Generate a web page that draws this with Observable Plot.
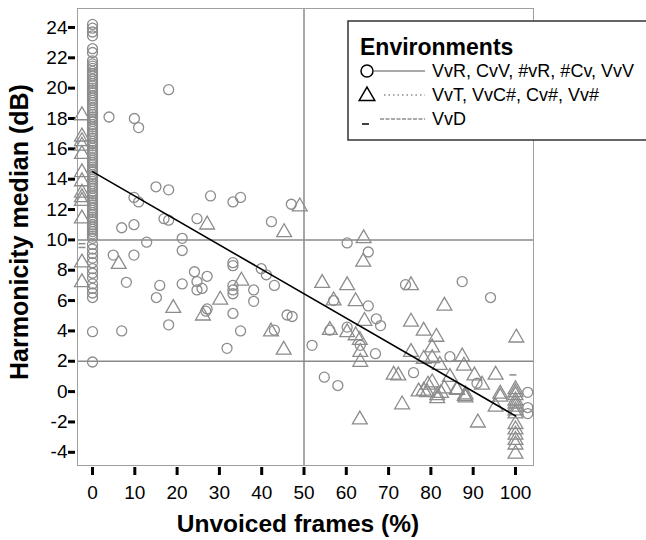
<!DOCTYPE html>
<html><head><meta charset="utf-8">
<script src="https://cdn.jsdelivr.net/npm/d3@7"></script>
<script src="https://cdn.jsdelivr.net/npm/@observablehq/plot@0.6"></script>
<style>body{margin:0;background:#fff;font-family:"Liberation Sans",Arial,sans-serif}</style>
</head><body><div id="chart"></div>
<script>
// ---- data ----
const xTicks = [0,10,20,30,40,50,60,70,80,90,100];
const yTicks = [-4,-2,0,2,4,6,8,10,12,14,16,18,20,22,24];
const refLinesY = [2, 10];
const refLinesX = [50];

// circles stacked at 0 % unvoiced frames (VvR, CvV, #vR, #Cv, VvV)
const circleColumnY = [24.2,23.95,23.7,23.45,22.6,22.35,21.8,21.6,21.45,21.3,21.1,20.95,20.8,20.6,20.45,20.3,20.15,20.0,19.85,19.7,19.5,19.35,19.2,19.05,18.9,18.7,18.55,18.4,18.25,18.1,17.95,17.8,17.6,17.45,17.3,17.15,17.0,16.85,16.7,16.5,16.35,16.2,16.05,15.9,15.75,15.6,15.4,15.25,15.1,14.95,14.8,14.65,14.5,14.3,14.15,14.0,13.85,13.7,13.55,13.4,13.2,13.05,12.9,12.75,12.6,12.45,12.3,12.1,11.95,11.8,11.65,11.5,11.35,11.2,11.0,10.85,10.7,10.55,10.4,10.25,10.1,9.7,9.4,9.1,8.8,8.5,8.1,7.8,7.5,7.1,6.8,6.5,6.2,3.95,1.95];

// other circles
const circleX = [3.9,9.9,10.9,18.0,15.0,18.0,9.8,10.9,27.9,33.2,35.0,16.9,18.0,24.7,6.9,9.8,12.8,21.2,47.0,42.3,4.9,9.8,8.0,21.2,15.9,15.1,18.0,21.2,24.1,24.7,24.7,25.9,27.1,27.1,26.8,33.2,33.2,33.2,33.2,33.2,33.2,31.8,35.0,38.1,38.1,39.9,41.1,43.0,43.0,46.0,47.2,6.9,51.9,60.2,65.2,74.0,87.4,94.1,57.0,65.2,67.1,68.1,56.1,60.2,63.3,66.9,84.5,54.8,58.0,75.9,90.9,102.9,102.9,102.9];
const circleY = [18.1,18.0,17.4,19.9,13.5,13.3,12.8,12.5,12.9,12.5,12.8,11.4,11.3,11.4,10.8,11.0,9.85,10.1,12.35,11.2,9.0,9.0,7.2,9.3,7.0,6.2,4.4,7.1,7.9,7.25,6.7,6.8,7.6,5.45,5.3,8.5,8.3,7.0,6.7,6.45,5.15,2.85,4.0,6.7,5.95,8.1,7.7,7.0,4.05,5.05,4.95,4.0,3.05,9.8,9.2,7.05,7.25,6.2,6.0,5.65,4.8,4.35,4.05,4.25,3.05,2.5,2.3,0.95,0.4,1.25,0.55,-0.05,-1.05,-1.45];

// triangles (VvT, VvC#, Cv#, Vv#)
const triangleX = [-2.5,-2.5,-2.5,-2.5,-2.5,-2.5,-2.5,-2.5,-2.5,-2.5,-2.5,-2.5,-2.5,
  27.1,49.0,45.3,64.1,6.2,19.1,26.1,30.2,35.2,42.2,45.2,64.0,54.3,60.2,75.3,57.0,62.2,83.2,64.3,75.3,56.1,60.2,62.2,63.2,63.3,63.3,78.3,81.3,80.3,75.3,78.3,80.3,87.4,82.1,87.8,100.2,71.2,72.3,84.5,90.3,95.3,92.1,79.3,80.3,83.2,86.2,88.2,88.2,77.1,78.3,79.1,81.5,81.5,82.4,96.4,96.4,95.3,73.2,63.2,91.1,86.1,88.0,
  100,100,100,100,100,100,100,100,100,100,100,100,100,100];
const triangleY = [18.2,16.8,16.5,16.2,15.65,14.45,13.85,13.1,12.8,12.55,11.4,8.5,7.2,
  11.0,12.2,10.5,10.1,8.4,5.5,5.0,6.05,7.3,3.95,2.75,8.55,7.15,7.0,7.0,6.0,5.95,5.65,4.65,4.6,4.05,3.9,3.7,3.4,2.6,1.95,4.0,3.6,2.9,2.6,2.15,2.2,2.3,1.75,1.7,3.55,1.1,1.05,0.95,1.05,1.1,0.45,0.45,0.6,0.2,0.1,-0.2,-0.4,0.0,0.05,-0.05,-0.25,-0.45,-0.1,-0.15,-0.35,-1.0,-0.85,-1.85,-2.05,0.15,-0.3,
  0.15,-0.05,-0.25,-0.6,-0.8,-1.0,-1.25,-1.45,-2.15,-2.5,-2.85,-3.2,-3.5,-4.1];

// dashes (VvD)
const dashX = [-2.5,-2.5,99.4];
const dashY = [9.75,9.5,1.1];

// regression line end points
const fitX = [0, 100];
const fitY = [14.5, -1.6];

const legendTitle = "Environments";
const legendLabels = ["VvR, CvV, #vR, #Cv, VvV", "VvT, VvC#, Cv#, Vv#", "VvD"];

// ---- build ----
const circles = circleColumnY.map(y => ({x: 0, y})).concat(circleX.map((x, i) => ({x, y: circleY[i]})));
const triangles = triangleX.map((x, i) => ({x, y: triangleY[i]}));
const dashes = dashX.map((x, i) => ({x, y: dashY[i]}));
const fit = fitX.map((x, i) => ({x, y: fitY[i]}));

const dashSymbol = {draw(ctx, size) { ctx.moveTo(-3.5, 0); ctx.lineTo(3.5, 0); }};
const gray = "#8c8c8c";

const chart = Plot.plot({
  width: 646, height: 540,
  marginLeft: 77, marginRight: 113, marginTop: 8, marginBottom: 75,
  style: {fontFamily: "'Liberation Sans', Arial, sans-serif", fontSize: "19px", color: "#000", background: "#fff"},
  x: {domain: [-3.55, 104.26]},
  y: {domain: [-4.87, 25.25]},
  marks: [
    Plot.ruleY(refLinesY, {stroke: "#8a8a8a", strokeWidth: 1.5}),
    Plot.ruleX(refLinesX, {stroke: "#8a8a8a", strokeWidth: 1.5}),
    Plot.frame({stroke: "#a0a0a0", strokeWidth: 1}),
    Plot.axisX({ticks: xTicks, tickSize: 8, tickPadding: 10, dy: 2, strokeWidth: 3, stroke: "#000", fontSize: 19, label: null, tickFormat: d => String(d)}),
    Plot.axisY({ticks: yTicks, tickSize: 7, tickPadding: 1, dx: -2, strokeWidth: 3, stroke: "#000", fontSize: 19, label: null, tickFormat: d => String(d)}),
    Plot.dot(circles, {x: "x", y: "y", r: 5, symbol: "circle", stroke: gray, strokeWidth: 1.3, fill: "none"}),
    Plot.dot(triangles, {x: "x", y: "y", r: 5.5, symbol: "triangle", stroke: gray, strokeWidth: 1.3, fill: "none"}),
    Plot.dot(dashes, {x: "x", y: "y", r: 4, symbol: dashSymbol, stroke: gray, strokeWidth: 1.5, fill: "none"}),
    Plot.line(fit, {x: "x", y: "y", stroke: "#000", strokeWidth: 1.6})
  ]
});

const svg = d3.select(chart);
svg.append("text").attr("transform", "translate(19,232) rotate(-90)")
  .attr("text-anchor", "middle").attr("dominant-baseline", "central")
  .attr("font-weight", "bold").attr("font-size", 25).attr("fill", "#000")
  .text("Harmonicity median (dB)");
svg.append("text").attr("x", 298).attr("y", 532)
  .attr("text-anchor", "middle").attr("font-weight", "bold").attr("font-size", 24.5).attr("fill", "#000")
  .text("Unvoiced frames (%)");

// legend
const lg = svg.append("g").attr("text-anchor", "start");
lg.append("rect").attr("x", 348).attr("y", 21).attr("width", 320).attr("height", 119)
  .attr("fill", "#fff").attr("stroke", "#333").attr("stroke-width", 1.5);
lg.append("text").attr("x", 360).attr("y", 55).attr("text-anchor", "start")
  .attr("font-weight", "bold").attr("font-size", 23).attr("fill", "#000").text(legendTitle);
const rowY = [71, 95, 119];
const lineStart = [374, 384, 380];
const dashes3 = [null, "1.5,3", "4,1.5"];
rowY.forEach((y, i) => {
  if (i === 0) lg.append("circle").attr("cx", 367).attr("cy", y).attr("r", 6).attr("fill", "none").attr("stroke", "#000").attr("stroke-width", 1.5);
  if (i === 1) lg.append("path").attr("d", d3.symbol(d3.symbolTriangle, 105)()).attr("transform", `translate(367,${y + 1})`).attr("fill", "none").attr("stroke", "#000").attr("stroke-width", 1.5);
  if (i === 2) lg.append("line").attr("x1", 362).attr("x2", 369).attr("y1", y + 5).attr("y2", y + 5).attr("stroke", "#000").attr("stroke-width", 1.5);
  lg.append("line").attr("x1", lineStart[i]).attr("x2", 425).attr("y1", y).attr("y2", y)
    .attr("stroke", "#555").attr("stroke-width", 1).attr("stroke-dasharray", dashes3[i]);
  lg.append("text").attr("x", 432).attr("y", y).attr("text-anchor", "start").attr("dominant-baseline", "central")
    .attr("font-size", 18).attr("fill", "#000").text(legendLabels[i]);
});

document.getElementById("chart").appendChild(chart);
</script>
</body></html>
